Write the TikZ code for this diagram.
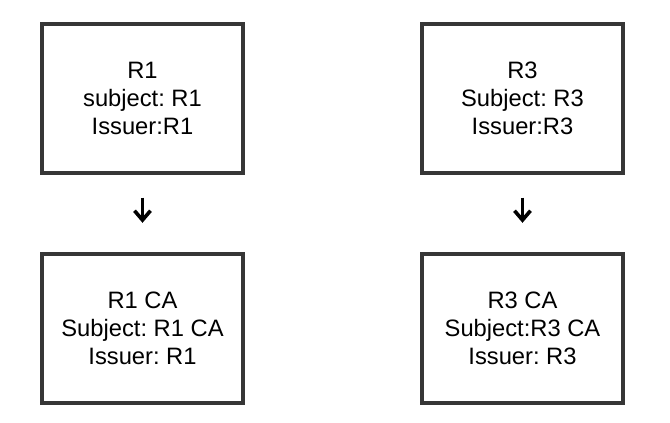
\documentclass[tikz,border=0pt]{standalone}
\usepackage{fontspec}
\setmainfont{Liberation Sans}
\usetikzlibrary{arrows.meta}
\definecolor{boxline}{HTML}{363636}
\frenchspacing
\begin{document}
\begin{tikzpicture}[x=0.75pt,y=-0.75pt,
  certbox/.style={draw=boxline,line width=2.8pt,fill=white,rectangle,
    minimum width=150.75pt,minimum height=111.75pt,align=center,
    font=\fontsize{17.8}{21}\selectfont,inner sep=0pt},
  downarrow/.style={line width=2.7pt,-{Straight Barb[length=7pt,width=12pt,line width=2.7pt]},
    shorten <=17pt,shorten >=22pt}]
\useasboundingbox (0,0) rectangle (670,422);
\node[certbox] (r1) at (142.5,98.5) {R1\\subject: R1\\Issuer:R1};
\node[certbox] (r3) at (522.5,98.5) {R3\\Subject: R3\\Issuer:R3};
\node[certbox] (r1ca) at (142.5,328.5) {R1 CA\\Subject: R1 CA\\Issuer: R1};
\node[certbox] (r3ca) at (522.5,328.5) {R3 CA\\Subject:R3 CA\\Issuer: R3};
\draw[downarrow] (r1) -- (r1ca);
\draw[downarrow] (r3) -- (r3ca);
\end{tikzpicture}
\end{document}
